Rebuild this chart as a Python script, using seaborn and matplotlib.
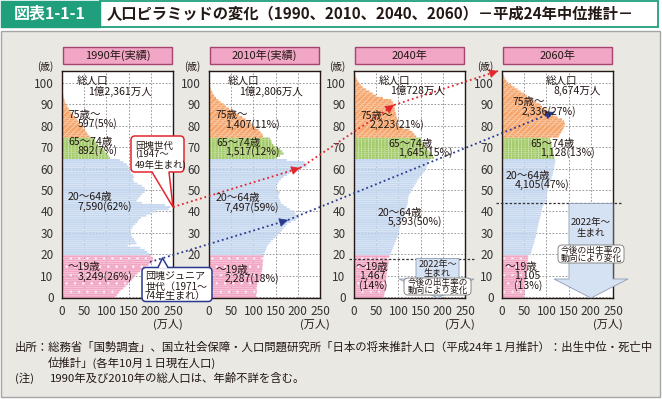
import matplotlib
matplotlib.use("Agg")
import matplotlib.pyplot as plt
import seaborn as sns
import pandas as pd
from matplotlib.patches import Rectangle, FancyBboxPatch, Polygon

# ---------------- data (万人, single-year ages) ----------------
YEARS = ["1990", "2010", "2040", "2060"]
HEADERS = ["1990年(実績)", "2010年(実績)", "2040年", "2060年"]

AGES_U19 = list(range(0, 20))
AGES_WORK = list(range(20, 65))
AGES_6574 = list(range(65, 75))
AGES_75_1990 = list(range(75, 101))
AGES_75_2010 = list(range(75, 104))
AGES_75_2040 = list(range(75, 106))
AGES_75_2060 = list(range(75, 106))

P1990_U19 = [120, 124, 128, 133, 138, 143, 148, 152, 157, 161, 165, 170, 176, 182, 188, 195, 200, 205, 205, 200]
P1990_WORK = [196, 192, 186, 176, 148, 168, 165, 162, 158, 156, 155, 155, 157, 160, 165,
              170, 173, 178, 190, 200, 212, 240, 244, 232, 180, 168, 172, 176, 180, 186,
              188, 186, 180, 170, 162, 160, 162, 160, 156, 154, 152, 150, 146, 138, 130]
P1990_6574 = [108, 105, 100, 96, 93, 86, 81, 78, 74, 71]
P1990_75 = [62, 58, 55, 52, 48, 45, 41, 37, 33, 29, 25, 21, 18, 15, 12, 9, 7, 5.5, 4, 3,
            2, 1.5, 1, 0.6, 0.4, 0.3]

P2010_U19 = [107, 106, 108, 108, 107, 108, 109, 112, 115, 117, 118, 118, 119, 120, 120, 121, 121, 122, 122, 123]
P2010_WORK = [122, 126, 128, 130, 132, 136, 140, 145, 150, 155, 160, 164, 168, 172, 176,
              185, 195, 200, 200, 195, 190, 182, 175, 168, 162, 160, 158, 156, 158, 160,
              152, 150, 152, 155, 158, 162, 168, 176, 182, 190, 200, 220, 222, 215, 175]
P2010_6574 = [150, 160, 168, 165, 160, 150, 145, 142, 140, 137]
P2010_75 = [122, 120, 116, 112, 106, 100, 95, 89, 82, 75, 67, 59, 52, 45, 38, 33, 27, 21, 16, 12,
            9, 6.5, 4.5, 3, 2, 1.5, 1, 0.7, 0.4]

P2040_U19 = [67, 68, 69, 70, 70, 71, 71, 72, 72, 73, 73, 74, 74, 75, 76, 77, 78, 78, 79, 80]
P2040_WORK = [82, 84, 86, 88, 90, 92, 94, 96, 98, 100, 101, 102, 103, 104, 106,
              108, 110, 111, 112, 113, 114, 116, 118, 120, 121, 122, 122, 123, 125, 128,
              130, 133, 136, 139, 142, 145, 148, 152, 156, 160, 162, 164, 166, 168, 172]
P2040_6574 = [180, 178, 175, 170, 165, 160, 158, 155, 152, 150]
P2040_75 = [140, 136, 132, 125, 110, 100, 99, 98, 97, 96, 95, 94, 93, 92, 91, 89, 88, 84, 65, 50,
            42, 35, 27, 20, 15, 11, 8, 6, 4, 3, 2]

P2060_U19 = [50, 50, 51, 51, 52, 52, 53, 53, 54, 54, 55, 55, 56, 56, 57, 57, 58, 58, 59, 59]
P2060_WORK = [65, 66, 67, 69, 70, 72, 73, 74, 76, 77, 78, 79, 80, 81, 82,
              83, 84, 86, 87, 88, 89, 90, 91, 94, 96, 99, 100, 101, 101, 102,
              102, 103, 105, 107, 109, 111, 112, 114, 115, 116, 117, 118, 119, 120, 120]
P2060_6574 = [118, 117, 116, 115, 114, 113, 112, 111, 110, 108]
P2060_75 = [128, 130, 133, 136, 139, 141, 142, 140, 135, 125, 115, 108, 102, 96, 90, 84, 77, 70, 63, 56,
            50, 42, 35, 28, 21, 14, 10, 7, 5, 3, 2]

DATA = {
    "1990": [(AGES_U19, P1990_U19), (AGES_WORK, P1990_WORK), (AGES_6574, P1990_6574), (AGES_75_1990, P1990_75)],
    "2010": [(AGES_U19, P2010_U19), (AGES_WORK, P2010_WORK), (AGES_6574, P2010_6574), (AGES_75_2010, P2010_75)],
    "2040": [(AGES_U19, P2040_U19), (AGES_WORK, P2040_WORK), (AGES_6574, P2040_6574), (AGES_75_2040, P2040_75)],
    "2060": [(AGES_U19, P2060_U19), (AGES_WORK, P2060_WORK), (AGES_6574, P2060_6574), (AGES_75_2060, P2060_75)],
}

GROUP_COLORS = ["#f2a7c5", "#c6d8ef", "#a2ca68", "#f6a56c"]
GROUP_HATCH = ["..", None, "|||||", "//////"]
GROUP_HATCH_COLOR = ["white", None, "#d9ebbf", "#fde3cf"]
GROUP_WIDTH = [0.92, 0.9, 1.0, 1.0]

X_TICKS = [0, 50, 100, 150, 200, 250]
Y_TICKS = list(range(0, 101, 10))

LABELS = {
    "1990": [("総人口", 77, 82), ("1億2,361万人", 88, 91), ("75歳～", 69, 115), ("597(5%)", 78, 124),
             ("65～74歳", 68, 142), ("892(7%)", 78, 151), ("20～64歳", 68, 197), ("7,590(62%)", 78, 207),
             ("～19歳", 68, 267), ("3,249(26%)", 78, 277)],
    "2010": [("総人口", 228, 82), ("1億2,806万人", 239, 91), ("75歳～", 216, 115), ("1,407(11%)", 225, 125),
             ("65～74歳", 216, 143), ("1,517(12%)", 225, 152), ("20～64歳", 216, 198), ("7,497(59%)", 225, 208),
             ("～19歳", 216, 270), ("2,287(18%)", 225, 279)],
    "2040": [("総人口", 379, 82), ("1億728万人", 390, 91), ("75歳～", 361, 116), ("2,223(21%)", 370, 125),
             ("65～74歳", 388, 144), ("1,645(15%)", 398, 153), ("20～64歳", 378, 213), ("5,393(50%)", 388, 222),
             ("～19歳", 356, 267), ("1,467", 359, 276), ("(14%)", 359, 286)],
    "2060": [("総人口", 546, 82), ("8,674万人", 554, 91), ("75歳～", 513, 102), ("2,336(27%)", 522, 112),
             ("65～74歳", 530, 144), ("1,128(13%)", 540, 153), ("20～64歳", 506, 176), ("4,105(47%)", 515, 185),
             ("～19歳", 505, 267), ("1,105", 514, 276), ("(13%)", 514, 286)],
}

# ---------------- figure ----------------
sns.set_style("white")
plt.rcParams["font.family"] = ["Noto Sans CJK JP", "DejaVu Sans"]
plt.rcParams["hatch.linewidth"] = 0.45

W, H = 662, 399
fig = plt.figure(figsize=(W / 100, H / 100), dpi=100)

GREEN = "#1f9f7c"
RED = "#e3262d"
NAVY = "#2b3990"
TXT = "#231815"

bg = fig.add_axes([0, 0, 1, 1], zorder=0)
bg.set_xlim(0, W); bg.set_ylim(H, 0); bg.axis("off")
bg.add_patch(Rectangle((1, 31), W - 3, H - 33, fc="#e9e8e3", ec="#a5a5a5", lw=1))
bg.add_patch(Rectangle((100, 1), W - 104, 26, fc="white", ec=GREEN, lw=1.3))
bg.add_patch(Rectangle((0.5, 1), 99.5, 26, fc=GREEN, ec=GREEN, lw=1))
bg.text(50, 14, "図表1-1-1", color="white", fontsize=11.5, fontweight="bold", ha="center", va="center")
bg.text(107, 14, "人口ピラミッドの変化（1990、2010、2040、2060）－平成24年中位推計－",
        color=TXT, fontsize=11, fontweight="bold", ha="left", va="center")

LEFTS = [62, 209, 354, 502]
AX_W, TOP, BOT = 111, 71, 298

for yr, hdr, left in zip(YEARS, HEADERS, LEFTS):
    ax = fig.add_axes([left / W, 1 - BOT / H, AX_W / W, (BOT - TOP) / H], zorder=1)
    ax.set_facecolor("white")
    for gi, (ages, vals) in enumerate(DATA[yr]):
        n0 = len(ax.patches)
        sns.barplot(x=vals, y=ages, orient="y", native_scale=True, color=GROUP_COLORS[gi],
                    width=GROUP_WIDTH[gi], errorbar=None, ax=ax, saturation=1)
        for p in ax.patches[n0:]:
            p.set_facecolor(GROUP_COLORS[gi])
            p.set_linewidth(0)
            p.set_snap(False)
            if GROUP_HATCH[gi]:
                p.set_edgecolor(GROUP_HATCH_COLOR[gi])
                p.set_hatch(GROUP_HATCH[gi])
    ax.set_xlim(0, 250)
    ax.set_ylim(-0.5, 105.6)
    ax.set_xticks(X_TICKS)
    ax.set_yticks(Y_TICKS)
    ax.set_xticklabels([str(v) for v in X_TICKS])
    ylabels = [str(v) for v in Y_TICKS]
    if yr == "2010":
        # these two labels sit under the 団塊ジュニア callout in the original
        ylabels[0] = ""
        ylabels[1] = ""
    ax.set_yticklabels(ylabels)
    ax.set_xlabel(""); ax.set_ylabel("")
    ax.tick_params(axis="both", length=0, labelsize=8.5, colors="#333333")
    ax.tick_params(axis="x", pad=5)
    ax.tick_params(axis="y", pad=6)
    ax.set_axisbelow(True)
    ax.grid(True, color="#8a8a8a", lw=0.6, ls=(0, (2, 2)))
    for s in ax.spines.values():
        s.set_color(TXT); s.set_linewidth(1); s.set_visible(True)
    # header box and axis unit labels
    bg.add_patch(Rectangle((left + 1, 47), AX_W - 2, 17, fc="#f1a6c5", ec="#a8426f", lw=1))
    bg.text(left + AX_W / 2, 55.5, hdr, fontsize=8, color=TXT, ha="center", va="center")
    bg.text(left - 17, 67, "(歳)", fontsize=7, color=TXT, ha="center", va="center")
    bg.text(left + 106, 324, "(万人)", fontsize=8, color=TXT, ha="center", va="center")

# ---------------- overlay annotations ----------------
ov = fig.add_axes([0, 0, 1, 1], zorder=3)
ov.set_xlim(0, W); ov.set_ylim(H, 0); ov.axis("off")
ov.patch.set_alpha(0)

for yr in YEARS:
    for s, x, y in LABELS[yr]:
        ov.text(x, y, s, fontsize=7.6, color=TXT, ha="left", va="center", zorder=6)


def dotted_arrow(p0, p1, color):
    ov.plot([p0[0], p1[0]], [p0[1], p1[1]], color=color, lw=1.3, ls=(0, (1, 1.6)), zorder=4)
    dx, dy = p1[0] - p0[0], p1[1] - p0[1]
    L = (dx * dx + dy * dy) ** 0.5
    ov.annotate("", xy=p1, xytext=(p1[0] - dx / L * 6, p1[1] - dy / L * 6),
                arrowprops=dict(arrowstyle="-|>,head_length=0.55,head_width=0.28", color=color,
                                lw=0.5, shrinkA=0, shrinkB=0), zorder=4)


dotted_arrow((173, 207), (300, 168), RED)
dotted_arrow((300, 168), (394, 105), RED)
dotted_arrow((394, 105), (498, 71), RED)
dotted_arrow((150, 262), (288, 220), NAVY)
dotted_arrow((288, 220), (554, 112), NAVY)

# 団塊世代 callout
ov.add_patch(FancyBboxPatch((131, 136), 53, 36, boxstyle="round,pad=0,rounding_size=4",
                            fc="white", ec=RED, lw=1.1, zorder=7))
ov.add_patch(Polygon([(152, 171), (173, 207), (169, 171)], closed=True, fc="white", ec="none", zorder=8))
ov.plot([152, 173, 169], [172, 207, 172], color=RED, lw=1.1, zorder=8)
for s, y in [("団塊世代", 146), ("(1947～", 155), ("49年生まれ)", 164)]:
    ov.text(135, y, s, fontsize=6.8, color=TXT, ha="left", va="center", zorder=9)

# 団塊ジュニア callout
ov.add_patch(FancyBboxPatch((142, 267.5), 70, 34, boxstyle="round,pad=0,rounding_size=4",
                            fc="white", ec=NAVY, lw=1.1, zorder=7))
ov.add_patch(Polygon([(158, 268.5), (162.5, 258), (168, 268.5)], closed=True, fc="white", ec="none", zorder=8))
ov.plot([158, 162.5, 168], [267.5, 258, 267.5], color=NAVY, lw=1.1, zorder=8)
for s, y in [("団塊ジュニア", 276), ("世代（1971～", 287), ("74年生まれ）", 296.5)]:
    ov.text(145, y, s, fontsize=7.2, color=TXT, ha="left", va="center", zorder=9)

# 2022年～生まれ arrows
ARROW_FC, ARROW_EC = "#d5e2f3", "#8d9db3"
ov.plot([349, 474], [258.5, 258.5], color="#333333", lw=0.9, ls=(0, (2, 1.5)), zorder=4)
ov.add_patch(Polygon([(416, 258.5), (459, 258.5), (459, 279), (474, 279), (437.5, 298),
                      (399, 279), (416, 279)], closed=True, fc=ARROW_FC, ec=ARROW_EC, lw=0.6, zorder=5))
ov.text(437.5, 264, "2022年～", fontsize=6.5, color=TXT, ha="center", va="center", zorder=6)
ov.text(437.5, 273, "生まれ", fontsize=6.5, color=TXT, ha="center", va="center", zorder=6)
ov.add_patch(FancyBboxPatch((404, 278), 67, 17, boxstyle="round,pad=0,rounding_size=4",
                            fc="white", ec="#777777", lw=0.6, zorder=6))
ov.text(437.5, 282.5, "今後の出生率の", fontsize=6.2, color=TXT, ha="center", va="center", zorder=7)
ov.text(437.5, 290.5, "動向により変化", fontsize=6.2, color=TXT, ha="center", va="center", zorder=7)

ov.plot([496, 621], [203, 203], color="#333333", lw=0.9, ls=(0, (2, 1.5)), zorder=4)
ov.add_patch(Polygon([(569, 203.5), (613, 203.5), (613, 279), (628, 279), (591, 298),
                      (554, 279), (569, 279)], closed=True, fc=ARROW_FC, ec=ARROW_EC, lw=0.6, zorder=5))
ov.text(591, 223, "2022年～", fontsize=6.8, color=TXT, ha="center", va="center", zorder=6)
ov.text(591, 233, "生まれ", fontsize=6.8, color=TXT, ha="center", va="center", zorder=6)
ov.add_patch(FancyBboxPatch((558, 245), 66, 18, boxstyle="round,pad=0,rounding_size=4",
                            fc="white", ec="#777777", lw=0.6, zorder=6))
ov.text(591, 250, "今後の出生率の", fontsize=6.3, color=TXT, ha="center", va="center", zorder=7)
ov.text(591, 258.5, "動向により変化", fontsize=6.3, color=TXT, ha="center", va="center", zorder=7)

# footer
FOOT = 8.2
ov.text(15, 347, "出所：総務省「国勢調査」、国立社会保障・人口問題研究所「日本の将来推計人口（平成24年１月推計）：出生中位・死亡中",
        fontsize=FOOT, color=TXT, ha="left", va="center")
ov.text(48, 362.5, "位推計」(各年10月１日現在人口)", fontsize=FOOT, color=TXT, ha="left", va="center")
ov.text(15, 378.5, "(注)", fontsize=FOOT, color=TXT, ha="left", va="center")
ov.text(50, 378.5, "1990年及び2010年の総人口は、年齢不詳を含む。", fontsize=FOOT, color=TXT, ha="left", va="center")

fig.savefig("out.png", dpi=100)
